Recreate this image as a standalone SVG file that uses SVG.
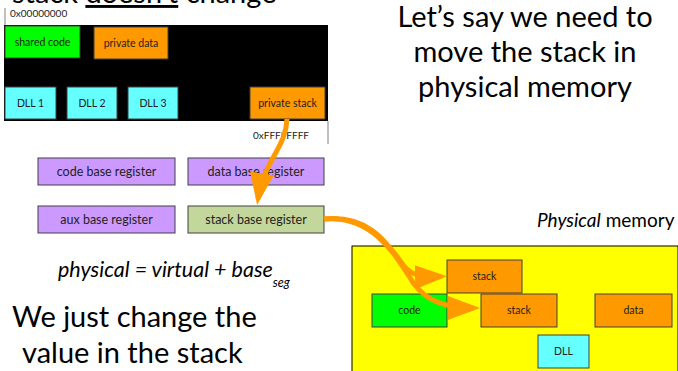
<svg xmlns="http://www.w3.org/2000/svg" width="678" height="371" viewBox="0 0 678 371">
  <style>
    text { font-family: Lato, "Liberation Sans", sans-serif; fill: #000; }
    .big { font-size: 29px; }
    .lbl { font-size: 10.5px; fill: #222; text-anchor: middle; }
    .reg { font-size: 12.5px; fill: #222; text-anchor: middle; }
    .addr { font-size: 10px; fill: #222; }
    .box { stroke: #404040; stroke-width: 1; }
    .green { fill: #00ff00; }
    .orange { fill: #ff9900; }
    .cyan { fill: #66ffff; }
    .purple { fill: #cc99ff; }
    .olive { fill: #c3d69b; }
    .arrow { fill: none; stroke: #ff9900; stroke-width: 5; }
  </style>
  <defs>
    <marker id="head" viewBox="0 0 32 24" refX="26" refY="12" markerWidth="32" markerHeight="24" markerUnits="userSpaceOnUse" orient="auto">
      <path d="M0,0 L32,12 L0,24 z" fill="#ff9900"/>
    </marker>
  </defs>

  <!-- heading, cut at the top edge -->
  <text class="big" x="12" y="3">stack <tspan text-decoration="underline">doesn’t</tspan> change</text>

  <!-- right-hand caption -->
  <g id="caption" class="big">
    <text x="525" y="27" text-anchor="middle">Let’s say we need to</text>
    <text x="525" y="62" text-anchor="middle">move the stack in</text>
    <text x="525" y="97" text-anchor="middle">physical memory</text>
  </g>

  <!-- virtual address space -->
  <g id="virtual-space">
    <line x1="5" y1="8" x2="5" y2="25" stroke="#808080"/>
    <line x1="328" y1="121" x2="328" y2="144" stroke="#808080"/>
    <rect x="4" y="25" width="324" height="96" fill="#000"/>
    <text class="addr" x="10" y="17">0x00000000</text>
    <text class="addr" x="253" y="139">0xFFFFFFFF</text>
  </g>
  <g id="shared-code"><rect class="box green" x="5" y="26" width="75" height="32"/><text class="lbl" x="42.5" y="45.5">shared code</text></g>
  <g id="private-data"><rect class="box orange" x="94" y="27" width="74" height="32"/><text class="lbl" x="131" y="46.5">private data</text></g>
  <g id="dll1"><rect class="box cyan" x="5" y="87" width="51" height="32"/><text class="lbl" x="30.5" y="106.5">DLL 1</text></g>
  <g id="dll2"><rect class="box cyan" x="67" y="87" width="50" height="32"/><text class="lbl" x="92" y="106.5">DLL 2</text></g>
  <g id="dll3"><rect class="box cyan" x="128" y="87" width="50" height="32"/><text class="lbl" x="153" y="106.5">DLL 3</text></g>
  <g id="private-stack"><rect class="box orange" x="250" y="87" width="75" height="32"/><text class="lbl" x="287.5" y="106.5">private stack</text></g>

  <!-- segment base registers -->
  <g id="code-base"><rect class="box purple" x="38" y="158" width="137" height="27"/><text class="reg" x="106.5" y="175.5">code base register</text></g>
  <g id="data-base"><rect class="box purple" x="188" y="158" width="136" height="27"/><text class="reg" x="256" y="175.5">data base register</text></g>
  <g id="aux-base"><rect class="box purple" x="38" y="206" width="137" height="27"/><text class="reg" x="106.5" y="223.5">aux base register</text></g>
  <g id="stack-base"><rect class="box olive" x="188" y="206" width="136" height="27"/><text class="reg" x="256" y="223.5">stack base register</text></g>

  <!-- translation formula -->
  <text x="58" y="277" font-size="21.5" font-style="italic">physical = virtual + base<tspan font-size="12.5" dy="10">seg</tspan></text>

  <!-- bottom-left caption -->
  <g id="note" class="big">
    <text x="12" y="327">We just change the</text>
    <text x="22" y="363">value in the stack</text>
  </g>

  <!-- physical memory -->
  <text x="537" y="227" font-size="19"><tspan font-style="italic">Physical</tspan> memory</text>
  <g id="physical-space"><rect x="352" y="246" width="326" height="130" fill="#ffff00" stroke="#000" stroke-width="1"/></g>
  <g id="old-stack"><rect class="box orange" x="447" y="260" width="75" height="33"/><text class="lbl" x="484.5" y="280">stack</text></g>
  <g id="code"><rect class="box green" x="372" y="294" width="75" height="33"/><text class="lbl" x="409.5" y="314">code</text></g>
  <g id="new-stack"><rect class="box orange" x="481" y="294" width="76" height="33"/><text class="lbl" x="519" y="314">stack</text></g>
  <g id="data"><rect class="box orange" x="595" y="294" width="77" height="33"/><text class="lbl" x="633.5" y="314">data</text></g>
  <g id="dll"><rect class="box cyan" x="538" y="335" width="51" height="33"/><text class="lbl" x="563.5" y="355">DLL</text></g>

  <!-- connectors -->
  <g id="connectors">
    <path class="arrow" d="M287,119 C286,148 264,160 258,199" marker-end="url(#head)"/>
    <path class="arrow" d="M324,219 C372,214 390,248 404,266 C412,276 422,277 441,276.5" marker-end="url(#head)"/>
    <path class="arrow" d="M324,219 C374,215 396,256 414,284 C426,300 444,308 474,308" marker-end="url(#head)"/>
  </g>
</svg>
